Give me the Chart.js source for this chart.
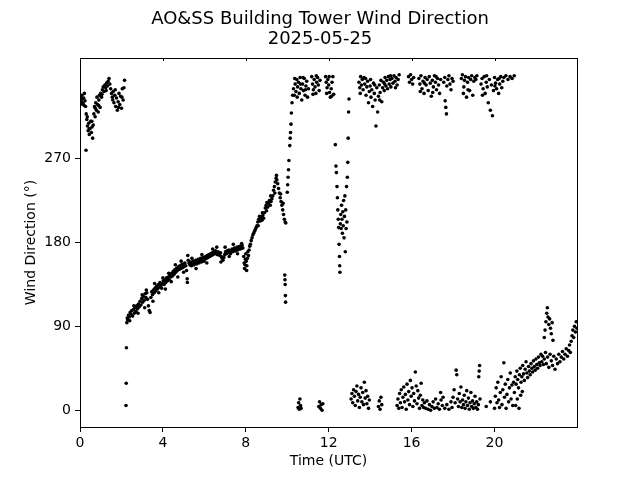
<!DOCTYPE html>
<html>
<head>
<meta charset="utf-8">
<title>AO&SS Building Tower Wind Direction</title>
<script src="https://cdn.jsdelivr.net/npm/chart.js@4.4.1/dist/chart.umd.min.js"></script>
<style>
  html, body { margin: 0; padding: 0; background: #fff; }
  #wrap { width: 640px; height: 480px; }
</style>
</head>
<body>
<div id="wrap"><canvas id="chart" width="640" height="480"></canvas></div>
<script>
const titleLines = ["AO&SS Building Tower Wind Direction", "2025-05-25"];
const xTicks = [0, 4, 8, 12, 16, 20];
const yTicks = [0, 90, 180, 270];

// [hour UTC, direction deg]
const earlyHours = [
  [0.00, 333], [0.03, 336], [0.06, 331], [0.09, 338], [0.12, 334], [0.15, 329], [0.18, 335], [0.21, 340],
  [0.24, 332], [0.27, 326], [0.29, 279], [0.30, 318], [0.33, 312], [0.36, 305], [0.39, 300], [0.42, 308],
  [0.45, 296], [0.48, 302], [0.52, 310], [0.55, 298], [0.58, 304], [0.61, 292], [0.64, 306], [0.67, 318],
  [0.70, 326], [0.73, 315], [0.76, 330], [0.79, 322], [0.82, 336], [0.85, 328], [0.88, 320], [0.91, 333],
  [0.94, 338], [0.97, 325], [1.00, 340], [1.04, 336], [1.08, 344], [1.12, 347], [1.16, 342], [1.20, 349],
  [1.24, 346], [1.28, 351], [1.32, 348], [1.36, 353], [1.40, 356], [1.44, 350], [1.48, 345], [1.52, 340],
  [1.56, 336], [1.60, 342], [1.64, 330], [1.68, 338], [1.72, 326], [1.76, 335], [1.80, 322], [1.84, 331],
  [1.88, 340], [1.92, 328], [1.96, 337], [2.00, 324], [2.04, 345], [2.08, 333], [2.12, 346], [2.15, 354],
  [0.02, 328], [0.10, 330], [0.20, 327], [0.35, 315], [0.44, 302], [0.57, 310], [0.74, 324], [0.90, 327],
  [1.06, 339], [1.26, 343], [1.58, 333], [1.70, 344], [1.86, 325], [2.02, 336]
];

const backingHours = [
  [2.22, 5], [2.23, 29], [2.24, 67], [2.26, 94], [2.28, 99], [2.30, 97], [2.34, 102], [2.38, 100],
  [2.42, 105], [2.46, 103], [2.50, 107], [2.54, 101], [2.58, 108], [2.62, 104], [2.66, 110], [2.70, 106],
  [2.74, 112], [2.78, 109], [2.82, 114], [2.86, 111], [2.90, 117], [2.94, 113], [2.98, 120], [3.02, 116],
  [3.06, 122], [3.10, 118], [3.14, 125], [3.18, 121], [3.22, 126], [3.26, 119], [3.30, 112], [3.34, 107],
  [3.38, 105], [3.42, 121], [3.46, 127], [3.50, 124], [3.54, 129], [3.58, 126], [3.62, 131], [3.66, 128],
  [3.70, 133], [3.74, 130], [3.78, 135], [3.82, 132], [3.86, 137], [3.90, 134], [3.94, 131], [3.98, 136],
  [4.02, 139], [4.06, 135], [4.10, 140], [4.14, 137], [4.18, 142], [4.22, 139], [4.26, 143], [4.30, 140],
  [4.34, 145], [4.38, 143], [4.42, 147], [4.46, 144], [4.50, 149], [4.54, 146], [4.58, 151], [4.62, 148],
  [4.66, 152], [4.70, 150], [4.74, 154], [4.78, 151], [4.82, 155], [4.86, 152], [4.90, 156], [4.94, 153],
  [4.98, 157], [5.02, 154], [5.06, 158], [5.10, 155], [5.14, 150], [5.17, 141], [5.18, 137], [5.20, 166],
  [5.22, 161], [5.26, 158], [5.30, 156], [5.34, 159], [5.38, 155], [5.42, 157], [5.46, 160], [5.50, 156],
  [5.54, 158], [5.58, 161], [5.62, 157], [5.66, 159], [5.70, 162], [5.74, 158], [5.78, 160], [5.82, 163],
  [5.86, 159], [5.90, 161], [5.94, 164], [5.98, 160], [6.02, 162], [6.06, 165], [6.10, 163], [6.14, 166],
  [6.18, 164], [6.22, 167], [6.26, 165], [6.30, 168], [6.34, 166], [6.38, 169], [6.42, 167], [6.46, 170],
  [6.50, 168], [6.54, 171], [6.58, 169], [6.62, 167], [6.66, 170], [6.70, 168], [6.74, 166], [6.78, 169],
  [6.82, 165], [6.86, 163], [6.90, 161], [6.94, 164], [6.98, 167], [7.02, 170], [7.06, 168], [7.10, 171],
  [7.14, 169], [7.18, 172], [7.22, 170], [7.26, 168], [7.30, 171], [7.34, 173], [7.38, 170], [7.42, 172],
  [7.46, 174], [7.50, 171], [7.54, 173], [7.58, 175], [7.62, 172], [7.66, 174], [7.70, 176], [7.74, 173],
  [7.78, 175], [7.82, 177], [7.86, 174], [7.90, 165], [7.92, 158], [7.94, 152], [7.96, 156], [7.98, 162],
  [8.00, 168], [8.02, 160], [8.05, 155], [8.08, 163], [8.10, 170], [8.13, 166], [8.16, 172], [8.19, 176],
  [8.22, 178], [8.26, 182], [8.30, 185], [8.34, 188], [8.38, 190], [8.42, 192], [8.46, 194], [8.50, 196],
  [8.54, 198], [8.58, 202], [8.62, 205], [8.66, 208], [8.70, 203], [8.74, 207], [8.78, 204], [8.82, 209],
  [8.86, 206], [8.90, 212], [8.94, 217], [8.98, 220], [9.02, 223], [9.06, 218], [9.10, 222], [9.14, 225],
  [9.18, 220], [9.22, 224], [9.26, 227], [9.30, 230], [9.34, 236], [9.38, 240], [9.42, 245], [9.46, 249],
  [9.50, 247], [9.54, 243], [9.58, 238], [9.62, 233], [9.66, 228], [9.70, 224], [9.74, 220], [9.78, 215],
  [9.82, 210], [9.86, 205], [9.90, 202], [9.93, 201], [9.88, 145], [9.89, 140], [9.90, 135], [9.91, 123],
  [9.92, 116], [10.00, 234], [10.02, 242], [10.04, 250], [10.06, 258], [10.08, 268], [10.12, 284], [10.14, 292],
  [10.16, 298], [10.18, 307], [10.20, 319], [10.23, 330], [10.26, 338]
];

// second row of samples around the backing trend, where the band is wider
const backingSpread = [
  [2.40, 96], [2.60, 112], [2.80, 104], [3.00, 124], [3.12, 110], [3.20, 129], [3.52, 117], [3.60, 136],
  [3.80, 126], [4.00, 142], [4.12, 130], [4.28, 147], [4.40, 138], [4.60, 156], [4.72, 143], [4.88, 160],
  [5.00, 148], [5.40, 163], [5.60, 152], [5.88, 167], [6.12, 158], [6.40, 173], [6.60, 175], [6.80, 159],
  [7.00, 175], [7.20, 165], [7.40, 178], [7.60, 168], [7.80, 179], [8.04, 150], [8.60, 198], [8.80, 212],
  [9.00, 214], [9.20, 230], [9.40, 233], [9.48, 252], [9.68, 232], [9.80, 222]
];

const northMorning = [
  [10.30, 345], [10.34, 338], [10.38, 350], [10.42, 342], [10.46, 355], [10.50, 347], [10.54, 352], [10.58, 340],
  [10.62, 357], [10.66, 345], [10.70, 333], [10.74, 350], [10.78, 343], [10.82, 356], [10.86, 338], [10.90, 348],
  [10.94, 353], [10.98, 336], [11.02, 345], [11.18, 358], [11.22, 350], [11.26, 344], [11.30, 355], [11.34, 347],
  [11.38, 340], [11.42, 352], [11.46, 357], [11.50, 349], [11.54, 343], [11.58, 354], [11.85, 358], [11.88, 352],
  [11.92, 346], [11.96, 355], [12.00, 349], [12.04, 341], [12.08, 336], [12.12, 345], [12.16, 352], [12.20, 358],
  [12.24, 339], [10.36, 356], [10.48, 336], [10.64, 350], [10.76, 357], [10.88, 344], [11.24, 339], [11.40, 359],
  [11.90, 340], [12.02, 358], [12.14, 337]
];

const swingNoon = [
  [12.32, 285], [12.35, 262], [12.37, 255], [12.40, 240], [12.42, 228], [12.44, 215], [12.46, 205], [12.48, 196],
  [12.50, 178], [12.52, 165], [12.53, 155], [12.54, 148], [12.56, 200], [12.58, 210], [12.60, 195], [12.62, 220],
  [12.64, 205], [12.66, 190], [12.68, 213], [12.70, 198], [12.72, 225], [12.74, 185], [12.76, 208], [12.78, 230],
  [12.80, 170], [12.82, 215], [12.84, 195], [12.86, 240], [12.88, 202], [12.90, 250], [12.92, 266], [12.94, 292],
  [12.96, 320], [12.98, 334]
];

const northAfternoon = [
  [13.46, 352], [13.50, 346], [13.54, 358], [13.58, 349], [13.62, 355], [13.66, 344], [13.70, 357], [13.74, 350],
  [13.80, 338], [13.84, 347], [13.88, 353], [13.92, 330], [13.96, 342], [14.00, 348], [14.04, 336], [14.08, 344],
  [14.12, 326], [14.16, 351], [14.20, 340], [14.24, 333], [14.28, 305], [14.32, 346], [14.36, 320], [14.40, 337],
  [14.44, 349], [14.48, 341], [14.52, 354], [14.56, 331], [14.60, 346], [14.64, 352], [14.68, 343], [14.72, 357],
  [14.76, 348], [14.80, 354], [14.84, 345], [14.88, 358], [14.92, 350], [14.96, 355], [15.00, 347], [15.05, 356],
  [15.10, 351], [15.15, 359], [15.20, 353], [15.25, 357], [15.30, 349], [15.35, 355], [15.40, 360], [15.85, 358],
  [15.90, 352], [15.95, 360], [16.00, 355], [16.05, 350], [16.10, 357], [16.35, 356], [16.40, 350], [16.45, 359],
  [16.50, 345], [16.55, 353], [16.60, 340], [16.65, 357], [16.70, 349], [16.75, 355], [16.80, 343], [16.85, 358],
  [16.90, 351], [16.95, 337], [17.00, 354], [17.05, 347], [17.10, 359], [17.15, 352], [17.20, 344], [17.25, 356],
  [17.30, 349], [17.35, 340], [17.40, 355], [17.55, 352], [17.60, 357], [17.62, 332], [17.65, 325], [17.68, 318],
  [17.70, 348], [17.75, 355], [17.80, 359], [17.85, 350], [17.90, 344], [17.95, 356], [18.00, 353], [18.40, 356],
  [18.45, 360], [18.50, 340], [18.55, 354], [18.60, 358], [18.65, 336], [18.70, 352], [18.75, 357], [18.80, 343],
  [18.85, 355], [18.90, 359], [18.95, 338], [19.00, 353], [19.05, 357], [19.10, 355], [19.15, 359], [19.35, 350],
  [19.40, 356], [19.45, 345], [19.50, 358], [19.55, 340], [19.60, 352], [19.65, 347], [19.70, 330], [19.75, 355],
  [19.80, 322], [19.85, 349], [19.90, 316], [19.95, 343], [20.00, 357], [20.05, 351], [20.10, 345], [20.15, 355],
  [20.20, 340], [20.25, 350], [20.30, 358], [20.35, 346], [20.40, 353], [20.45, 357], [20.55, 359], [20.65, 355],
  [20.75, 358], [20.85, 356], [20.95, 359], [13.52, 340], [13.78, 356], [14.02, 355], [14.22, 349], [14.46, 333],
  [14.70, 350], [14.98, 359], [15.22, 346], [16.42, 342], [16.62, 351], [17.02, 341], [17.18, 358], [18.52, 347],
  [18.72, 344], [19.42, 338], [19.62, 359], [20.02, 348], [20.22, 356]
];

const northLow = [
  [10.52, 3], [10.55, 8], [10.58, 1], [10.61, 12], [10.64, 5], [10.67, 2],
  [11.52, 4], [11.56, 9], [11.60, 2], [11.64, 6], [11.68, 0], [11.72, 7],
  [13.08, 12], [13.12, 18], [13.16, 8], [13.20, 22], [13.24, 15], [13.28, 5], [13.32, 20], [13.36, 26],
  [13.40, 10], [13.44, 17], [13.48, 3], [13.52, 14], [13.56, 24], [13.60, 9], [13.64, 19], [13.68, 6],
  [13.72, 30], [13.76, 13], [13.80, 21], [13.84, 7], [13.88, 15], [13.92, 2], [13.96, 11],
  [14.40, 4], [14.44, 10], [14.48, 1], [14.52, 14], [14.56, 6],
  [15.30, 5], [15.34, 12], [15.38, 2], [15.42, 18], [15.46, 8], [15.50, 22], [15.54, 3], [15.58, 14],
  [15.62, 25], [15.66, 9], [15.70, 17], [15.74, 1], [15.78, 28], [15.82, 11], [15.86, 20], [15.90, 6],
  [15.94, 32], [15.98, 15], [16.02, 24], [16.06, 4], [16.10, 18], [16.14, 10], [16.18, 41], [16.22, 26],
  [16.26, 7], [16.30, 21], [16.34, 13], [16.38, 2], [16.42, 16], [16.46, 29], [16.50, 5], [16.54, 11],
  [16.58, 3], [16.62, 8], [16.68, 2], [16.74, 10], [16.80, 1], [16.86, 6], [16.92, 0], [16.98, 4],
  [17.04, 9], [17.10, 2], [17.16, 12], [17.22, 3], [17.28, 7], [17.34, 1], [17.40, 19], [17.42, 11],
  [17.48, 5], [17.52, 14], [17.60, 2], [17.70, 6], [17.80, 1], [17.90, 9], [17.95, 3], [18.00, 14],
  [18.05, 22], [18.10, 8], [18.15, 43], [18.18, 38], [18.22, 12], [18.26, 4], [18.30, 18], [18.34, 9],
  [18.38, 25], [18.42, 3], [18.46, 11], [18.50, 6], [18.54, 16], [18.58, 2], [18.62, 9], [18.66, 21],
  [18.70, 5], [18.74, 13], [18.78, 1], [18.82, 8], [18.86, 19], [18.90, 4], [18.94, 10], [18.98, 2],
  [19.02, 7], [19.06, 15], [19.10, 3], [19.14, 9], [19.18, 1], [19.22, 6], [19.24, 36], [19.26, 42],
  [19.28, 48], [19.30, 12], [19.60, 4], [19.80, 9], [20.00, 2], [20.04, 15], [20.08, 24], [20.12, 8],
  [20.16, 30], [20.20, 11], [20.24, 3], [20.28, 19], [20.32, 36], [20.36, 6], [20.40, 22], [20.45, 51],
  [20.48, 14], [20.52, 28], [20.56, 2], [20.60, 17], [20.64, 33], [20.68, 9], [20.72, 24], [20.76, 40],
  [20.80, 12], [20.84, 27], [20.88, 5], [20.92, 30], [20.96, 19], [21.00, 36]
];

const eveningRise = [
  [21.02, 5], [21.10, 12], [21.18, 2], [21.26, 16], [21.34, 20],
  [21.04, 28], [21.08, 42], [21.12, 33], [21.16, 24], [21.20, 38], [21.24, 45], [21.28, 30], [21.32, 36],
  [21.36, 48], [21.40, 39], [21.44, 32], [21.48, 44], [21.52, 52], [21.56, 40], [21.60, 35], [21.64, 47],
  [21.68, 42], [21.72, 38], [21.76, 50], [21.80, 45], [21.84, 41], [21.88, 53], [21.92, 47], [21.96, 43],
  [22.00, 55], [22.04, 49], [22.08, 45], [22.12, 57], [22.16, 51], [22.20, 48], [22.24, 60], [22.28, 52],
  [22.32, 58], [22.36, 49], [22.40, 55], [22.40, 78], [22.44, 86], [22.46, 62], [22.48, 95], [22.50, 50],
  [22.52, 104], [22.55, 110], [22.56, 57], [22.58, 100], [22.62, 92], [22.62, 46], [22.66, 98], [22.68, 60],
  [22.70, 88], [22.74, 82], [22.74, 53], [22.78, 94], [22.80, 48], [22.82, 75], [22.86, 58], [22.92, 44],
  [22.98, 55], [23.04, 50], [23.10, 60], [23.16, 52], [23.22, 57], [23.28, 63], [23.34, 55], [23.40, 60],
  [23.46, 66], [23.52, 58], [23.58, 64], [23.62, 70], [23.66, 62], [23.70, 74], [23.74, 80], [23.78, 86],
  [23.82, 78], [23.86, 90], [23.90, 84], [23.94, 95], [23.98, 88]
];

const allObs = [].concat(earlyHours, backingHours, backingSpread, northMorning, swingNoon, northAfternoon, northLow, eveningRise);

// matplotlib-style inward tick marks on the top spine
const topTicks = {
  id: "topTicks",
  afterDraw(chart) {
    const ctx = chart.ctx;
    const sc = chart.scales.xTop;
    const top = chart.chartArea.top;
    ctx.save();
    ctx.strokeStyle = "#000";
    ctx.lineWidth = 1;
    sc.ticks.forEach((t) => {
      const px = Math.round(sc.getPixelForValue(t.value)) + 0.5;
      ctx.beginPath();
      ctx.moveTo(px, top);
      ctx.lineTo(px, top + 3);
      ctx.stroke();
    });
    ctx.restore();
  },
};

const font = "'DejaVu Sans', sans-serif";
Chart.defaults.font.family = font;
Chart.defaults.color = "#000";

new Chart(document.getElementById("chart"), {
  type: "scatter",
  data: {
    datasets: [
      {
        data: allObs.map((p) => ({ x: p[0], y: p[1] })),
        backgroundColor: "#000",
        borderWidth: 0,
        pointRadius: 1.8,
        pointHoverRadius: 1.8,
      },
    ],
  },
  options: {
    responsive: false,
    animation: false,
    layout: { padding: 0 },
    plugins: {
      legend: { display: false },
      tooltip: { enabled: false },
      title: {
        display: true,
        text: titleLines,
        color: "#000",
        font: { size: 18, weight: "normal", lineHeight: "20px" },
        padding: { top: 9, bottom: 0 },
      },
    },
    scales: {
      x: {
        type: "linear",
        position: "bottom",
        min: 0,
        max: 23.98,
        afterBuildTicks: (s) => { s.ticks = xTicks.map((v) => ({ value: v })); },
        afterFit: (s) => { s.height = 53; },
        grid: { drawOnChartArea: false, color: "#000", tickLength: 5, tickWidth: 1 },
        border: { display: true, color: "#000", width: 1 },
        ticks: { font: { size: 14 }, padding: 3, maxRotation: 0 },
        title: { display: true, text: "Time (UTC)", font: { size: 14 }, padding: { top: 0, bottom: 10 } },
      },
      xTop: {
        type: "linear",
        position: "top",
        min: 0,
        max: 23.98,
        afterBuildTicks: (s) => { s.ticks = xTicks.concat([24]).map((v) => ({ value: v })); },
        afterFit: (s) => { s.height = 9; },
        grid: { drawOnChartArea: false, drawTicks: false },
        border: { display: true, color: "#000", width: 1 },
        ticks: { display: false },
      },
      y: {
        type: "linear",
        position: "left",
        min: -18,
        max: 378,
        afterBuildTicks: (s) => { s.ticks = yTicks.map((v) => ({ value: v })); },
        afterFit: (s) => { s.width = 80; },
        grid: { drawOnChartArea: false, color: "#000", tickLength: 5, tickWidth: 1 },
        border: { display: true, color: "#000", width: 1 },
        ticks: { font: { size: 14 }, padding: 4 },
        title: { display: true, text: "Wind Direction (°)", font: { size: 14 }, padding: { top: 23, bottom: 0 } },
      },
      yRight: {
        type: "linear",
        position: "right",
        min: -18,
        max: 378,
        afterFit: (s) => { s.width = 63; },
        grid: { drawOnChartArea: false, drawTicks: false },
        border: { display: true, color: "#000", width: 1 },
        ticks: { display: false },
      },
    },
  },
  plugins: [topTicks],
});
</script>
</body>
</html>
